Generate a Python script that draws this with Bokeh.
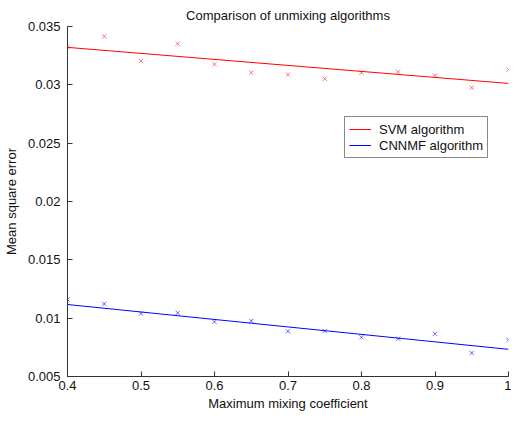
from bokeh.plotting import figure
from bokeh.models import Range1d, FixedTicker, CustomJSTickFormatter, Legend, LegendItem, ColumnDataSource
from bokeh.embed import file_html
from bokeh.resources import INLINE

# Data
mixing = [0.40, 0.45, 0.50, 0.55, 0.60, 0.65, 0.70, 0.75, 0.80, 0.85, 0.90, 0.95, 1.00]
svm_mse = [0.03324, 0.03415, 0.03205, 0.03353, 0.03176, 0.03105, 0.03088, 0.03052,
           0.03105, 0.03111, 0.03080, 0.02975, 0.03131]
cnnmf_mse = [0.01160, 0.01122, 0.01040, 0.01045, 0.00969, 0.00977, 0.00887, 0.00890,
             0.00836, 0.00824, 0.00866, 0.00702, 0.00815]
fit_x = [0.4, 1.0]
svm_fit = [0.03321, 0.03012]
cnnmf_fit = [0.01117, 0.00733]
x_ticks = [0.4, 0.5, 0.6, 0.7, 0.8, 0.9, 1.0]
y_ticks = [0.005, 0.01, 0.015, 0.02, 0.025, 0.03, 0.035]

FONT = "Liberation Sans"
RED = "#ff0000"
BLUE = "#0000ff"

p = figure(width=511, height=413, output_backend="svg", toolbar_location=None,
           x_range=Range1d(0.4, 1.0), y_range=Range1d(0.005, 0.035),
           title="Comparison of unmixing algorithms",
           min_border_left=62, min_border_right=3, min_border_top=26, min_border_bottom=34)
p.outline_line_color = None
p.background_fill_color = "white"
p.border_fill_color = "white"
p.xgrid.visible = False
p.ygrid.visible = False

p.title.align = "center"
p.title.text_font = FONT
p.title.text_font_size = "13px"
p.title.text_font_style = "normal"
p.title.text_color = "#111111"
p.title.standoff = 8

fmt = CustomJSTickFormatter(code="return String(parseFloat(tick.toFixed(6)));")
for ax, ticks, label in ((p.xaxis[0], x_ticks, "Maximum mixing coefficient"),
                         (p.yaxis[0], y_ticks, "Mean square error")):
    ax.ticker = FixedTicker(ticks=ticks)
    ax.formatter = fmt
    ax.axis_label = label
    ax.axis_label_text_font = FONT
    ax.axis_label_text_font_size = "13px"
    ax.axis_label_text_font_style = "normal"
    ax.axis_label_text_color = "#111111"
    ax.major_label_text_font = FONT
    ax.major_label_text_font_size = "13px"
    ax.major_label_text_color = "#111111"
    ax.major_tick_in = 5
    ax.major_tick_out = 0
    ax.minor_tick_in = 0
    ax.minor_tick_out = 0
    ax.axis_line_color = "#333333"
    ax.major_tick_line_color = "#333333"

p.yaxis[0].major_label_standoff = 7
p.yaxis[0].axis_label_standoff = 6
p.xaxis[0].major_label_standoff = 4
p.xaxis[0].axis_label_standoff = 3

src = ColumnDataSource(dict(x=mixing, svm=svm_mse, cnnmf=cnnmf_mse))
p.scatter("x", "svm", source=src, marker="x", size=6, line_color=RED, line_alpha=0.55, line_width=1)
p.scatter("x", "cnnmf", source=src, marker="x", size=6, line_color=BLUE, line_alpha=0.6, line_width=1)
r_svm = p.line(fit_x, svm_fit, line_color=RED, line_width=1)
r_cn = p.line(fit_x, cnnmf_fit, line_color=BLUE, line_width=1)

legend = Legend(items=[LegendItem(label="SVM algorithm", renderers=[r_svm]),
                       LegendItem(label="CNNMF algorithm", renderers=[r_cn])],
                location=(277, 218))
legend.label_text_font = FONT
legend.label_text_font_size = "13px"
legend.label_text_color = "#111111"
legend.border_line_color = "#111111"
legend.border_line_width = 1
legend.background_fill_color = "white"
legend.background_fill_alpha = 1
legend.padding = 4
legend.margin = 0
legend.spacing = 0
legend.glyph_width = 22
legend.glyph_height = 16
legend.label_height = 16
legend.label_standoff = 8
p.add_layout(legend, "center")

open("out.html", "w").write(file_html(p, INLINE))
